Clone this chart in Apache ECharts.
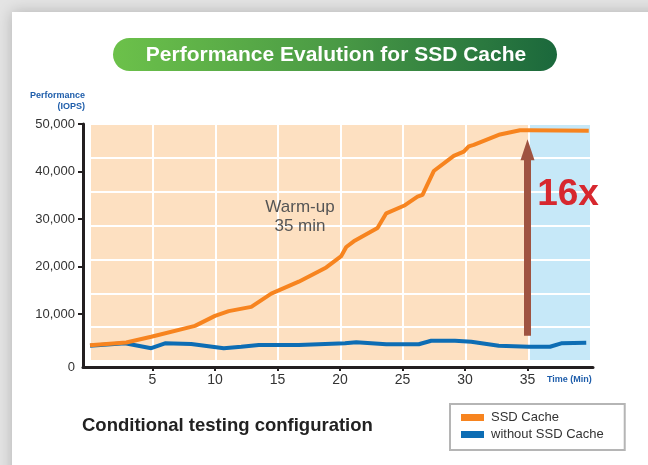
<!DOCTYPE html>
<html>
<head>
<meta charset="utf-8">
<script src="https://cdn.jsdelivr.net/npm/echarts@6/dist/echarts.min.js"></script>
<style>
html, body { margin: 0; padding: 0; background: #e4e4e4; }
#container { width: 648px; height: 465px; }
</style>
</head>
<body>
<div id="container"></div>
<script>
// time (min) / IOPS
var ssdTime = [0, 2.9, 4.9, 8.4, 10, 11.1, 12.9, 14.5, 16.7, 18.9, 20.1, 20.5, 21.1, 23, 23.7, 25.2, 26.2, 26.6, 27.5, 29.1, 29.9, 30.3, 30.7, 32.8, 34.4, 35.1, 39.9];
var ssdIops = [3400, 4000, 5200, 7500, 9600, 10600, 11500, 14300, 16800, 19800, 22200, 24100, 25300, 28100, 31200, 32900, 34700, 35100, 40100, 43300, 44200, 45300, 45600, 47800, 48700, 48700, 48600];
var noSsdTime = [0, 2.8, 4.9, 6, 8.1, 10.7, 12.1, 13.5, 16.7, 20.4, 21.3, 23.7, 26.3, 27.3, 29.2, 30.5, 32.7, 35.1, 36.8, 37.7, 39.7];
var noSsdIops = [3330, 3830, 2800, 3830, 3700, 2800, 3100, 3470, 3470, 3830, 4040, 3620, 3620, 4370, 4370, 4160, 3330, 3110, 3110, 3830, 3950];
var xTicks = [5, 10, 15, 20, 25, 30, 35];
var yTicks = [10000, 20000, 30000, 40000, 50000];
var seriesNames = ['SSD Cache', 'without SSD Cache'];

var FONT = "'Liberation Sans', Arial, sans-serif";
var yMin = -1160;

function pairs(xs, ys) {
	var out = [];
	for (var i = 0; i < xs.length; i++) {
		out.push([xs[i], ys[i]]);
	}
	return out;
}

var myChart = echarts.init(document.getElementById('container'));
var bandColors = ['#fde0c1', '#fde0c1', '#fde0c1', '#fde0c1', '#fde0c1', '#fde0c1', '#fde0c1', '#c6e8f8'];

var option = {
	backgroundColor: 'transparent',
	animation: false,
	textStyle: { fontFamily: FONT },
	grid: [
		// shaded panel with white grid
		{ left: 90, top: 124, width: 501, height: 237, outerBoundsMode: 'none' },
		// data grid
		{ left: 83, top: 124, width: 510, height: 243, outerBoundsMode: 'none' }
	],
	xAxis: [
		{
			gridIndex: 0, type: 'value', min: 0, max: 40, interval: 5, z: 0,
			axisLine: { show: false }, axisTick: { show: false }, axisLabel: { show: false },
			splitLine: { show: true, lineStyle: { color: '#ffffff', width: 2 } },
			splitArea: { show: true, areaStyle: { color: bandColors } }
		},
		{
			gridIndex: 1, type: 'value', min: -0.56, max: 40.24, z: 2,
			axisLine: { show: true, onZero: false, lineStyle: { color: '#231f20', width: 3 } },
			axisTick: { show: true, length: 4, customValues: xTicks, lineStyle: { color: '#231f20', width: 2 } },
			axisLabel: { show: true, customValues: xTicks, color: '#333', fontSize: 14, margin: 6, fontFamily: FONT },
			splitLine: { show: false }
		}
	],
	yAxis: [
		{
			gridIndex: 0, type: 'value', min: 0, max: 7, interval: 1, z: 1,
			axisLine: { show: false }, axisTick: { show: false }, axisLabel: { show: false },
			splitLine: { show: true, lineStyle: { color: '#ffffff', width: 2 } }
		},
		{
			gridIndex: 1, type: 'value', min: yMin, max: 50000, z: 2,
			axisLine: { show: true, onZero: false, lineStyle: { color: '#231f20', width: 3 } },
			axisTick: { show: true, length: 5, customValues: yTicks, lineStyle: { color: '#231f20', width: 2 } },
			axisLabel: {
				show: true, customValues: [yMin].concat(yTicks), color: '#333', fontSize: 13, margin: 8, fontFamily: FONT,
				formatter: function (v) { return v <= 0 ? '0' : echarts.format.addCommas(v); }
			},
			splitLine: { show: false }
		}
	],
	legend: {
		data: seriesNames,
		orient: 'vertical',
		left: 450, top: 404,
		icon: 'rect',
		itemWidth: 23, itemHeight: 7, itemGap: 4,
		padding: [7, 21, 9, 11],
		borderColor: '#b5b5b5', borderWidth: 2,
		textStyle: { color: '#333', fontSize: 13, fontFamily: FONT, padding: [0, 0, 0, 2] }
	},
	series: [
		{
			name: seriesNames[0], type: 'line', xAxisIndex: 1, yAxisIndex: 1,
			data: pairs(ssdTime, ssdIops), showSymbol: false, symbol: 'none',
			lineStyle: { color: '#f7841f', width: 4 }, itemStyle: { color: '#f7841f' }, z: 4,
			markLine: {
				silent: true, symbol: ['none', 'triangle'], symbolSize: [14, 21],
				lineStyle: { color: '#9f5341', width: 7, type: 'solid' },
				label: { show: false },
				data: [[{ coord: [35, 5400] }, { coord: [35, 44600] }]]
			}
		},
		{
			name: seriesNames[1], type: 'line', xAxisIndex: 1, yAxisIndex: 1,
			data: pairs(noSsdTime, noSsdIops), showSymbol: false, symbol: 'none',
			lineStyle: { color: '#0d6db4', width: 4 }, itemStyle: { color: '#0d6db4' }, z: 3
		}
	],
	graphic: [
		{
			type: 'rect', z: -10, shape: { x: 12, y: 12, width: 700, height: 520 },
			style: { fill: '#ffffff', shadowBlur: 14, shadowColor: 'rgba(0,0,0,0.22)' }
		},
		{
			type: 'rect', shape: { x: 113, y: 38, width: 444, height: 33, r: 16.5 },
			style: {
				fill: new echarts.graphic.LinearGradient(0, 0, 1, 0, [
					{ offset: 0, color: '#6cc14a' },
					{ offset: 0.5, color: '#4a9a45' },
					{ offset: 1, color: '#1b683c' }
				])
			}
		},
		{
			type: 'text', x: 336, y: 55, z: 100,
			style: { text: 'Performance Evalution for SSD Cache', fill: '#ffffff', font: 'bold 21px ' + FONT, textAlign: 'center', textVerticalAlign: 'middle' }
		},
		{
			type: 'text', x: 85, y: 101, z: 100,
			style: { text: 'Performance\n(IOPS)', fill: '#1f5eab', font: 'bold 9px ' + FONT, textAlign: 'right', textVerticalAlign: 'middle', lineHeight: 11 }
		},
		{
			type: 'text', x: 547, y: 380, z: 100,
			style: { text: 'Time (Min)', fill: '#1f5eab', font: 'bold 9px ' + FONT, textAlign: 'left', textVerticalAlign: 'middle' }
		},
		{
			type: 'text', x: 300, y: 217, z: 100,
			style: { text: 'Warm-up\n35 min', fill: '#555555', font: '17px ' + FONT, textAlign: 'center', textVerticalAlign: 'middle', lineHeight: 19 }
		},
		{
			type: 'text', x: 568, y: 195, z: 100,
			style: { text: '16x', fill: '#d7282f', font: 'bold 37px ' + FONT, textAlign: 'center', textVerticalAlign: 'middle' }
		},
		{
			type: 'text', x: 82, y: 426, z: 100,
			style: { text: 'Conditional testing configuration', fill: '#222222', font: 'bold 18.5px ' + FONT, textAlign: 'left', textVerticalAlign: 'middle' }
		}
	]
};
myChart.setOption(option, true);
</script>
</body>
</html>
